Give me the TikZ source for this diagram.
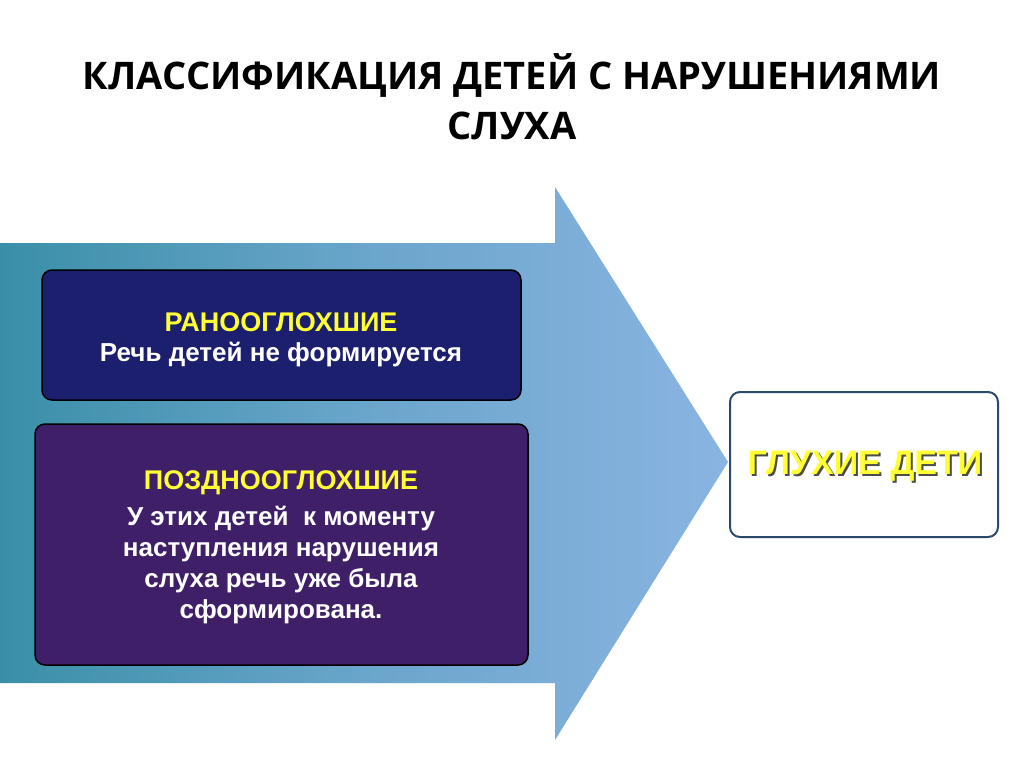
\documentclass[tikz,border=0pt]{standalone}
\usepackage{fontspec}
\setmainfont{Liberation Sans}
\newfontfamily\titlefont{Open Sans}
\usetikzlibrary{shadings}
\definecolor{teal1}{HTML}{3A8FA8}
\definecolor{lblue}{HTML}{8AB4E2}
\definecolor{navy}{HTML}{1B1F6E}
\definecolor{purp}{HTML}{3E1F68}
\definecolor{yel}{HTML}{FFFF33}
\definecolor{bord}{HTML}{2B4A6B}
\begin{document}
\begin{tikzpicture}[x=1pt,y=-1pt,
  boxst/.style={draw=black,line width=1.5pt,rounded corners=10pt},
  ttl/.style={font=\titlefont\bfseries\fontsize{38}{50}\selectfont,align=center},
  yt/.style={text=yel,font=\bfseries\fontsize{27}{32}\selectfont},
  wt/.style={text=white,font=\bfseries\fontsize{26}{31}\selectfont,align=center}]
\useasboundingbox (0,0) rectangle (1024,767);
\fill[white] (0,0) rectangle (1024,767);
\node[ttl] (title) at (512,97) {КЛАССИФИКАЦИЯ ДЕТЕЙ С НАРУШЕНИЯМИ\\СЛУХА};
\shade[left color=teal1,right color=lblue,middle color=teal1!40!lblue] (0,243) -- (555,243) -- (555,187) -- (728,462) -- (555,740) -- (555,683) -- (0,683) -- cycle;
\draw[boxst,fill=navy] (42,270) rectangle (521,400);
\node[yt] (a1) at (281,322) {РАНООГЛОХШИЕ};
\node[wt] (a2) at (281,355) {Речь детей не формируется};
\draw[boxst,fill=purp] (35,424) rectangle (528,665);
\node[yt] (b1) at (281,483) {ПОЗДНООГЛОХШИЕ};
\node[wt] (b2) at (281,565) {У этих детей\ \ к моменту\\наступления нарушения\\слуха речь уже была\\сформирована.};
\draw[draw=bord,line width=2pt,fill=white,rounded corners=10pt] (730,392) rectangle (998,537);
\node[text=black!70,font=\bfseries\fontsize{34}{40}\selectfont] at (867,468) {ГЛУХИЕ ДЕТИ};
\node[text=yel,font=\bfseries\fontsize{34}{40}\selectfont] (c) at (865,466) {ГЛУХИЕ ДЕТИ};
\end{tikzpicture}
\end{document}
